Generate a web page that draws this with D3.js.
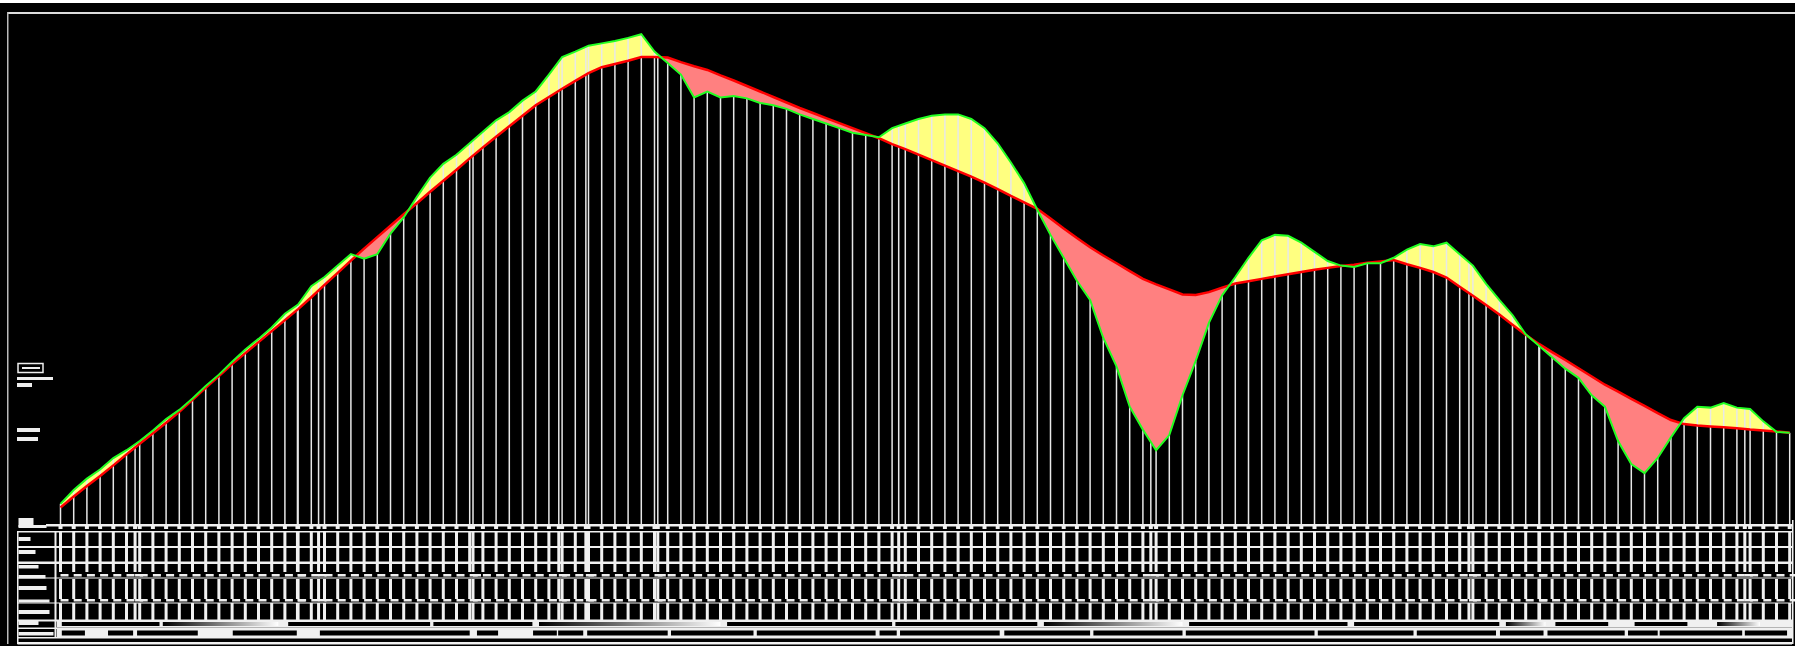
<!DOCTYPE html>
<html>
<head>
<meta charset="utf-8">
<script src="https://cdn.jsdelivr.net/npm/d3@7"></script>
<style>
  html, body { margin: 0; padding: 0; background: #000; }
  svg { display: block; }
</style>
</head>
<body>
<div id="graph"></div>
<script>
// The data... stations every 20 m, elevations in m
var stationStep = 20;
var stations = d3.range (0, 2640, stationStep);

var ground = [
    104.4, 107.4, 109.9, 111.9, 114.4, 116.1, 118.1, 120.4, 122.9, 124.9,
    127.4, 130.1, 132.6, 135.4, 138.1, 140.4, 142.9, 145.9, 147.9, 151.9,
    153.9, 156.4, 158.9, 157.9, 158.9, 163.4, 166.9, 171.4, 175.6, 178.6,
    180.6, 183.1, 185.6, 188.1, 189.9, 192.4, 194.4, 198.1, 201.9, 203.1,
    204.4, 204.9, 205.4, 206.1, 206.9, 203.1, 200.6, 198.1, 193.1, 194.4,
    193.1, 193.4, 192.9, 191.9, 191.4, 190.6, 189.4, 188.4, 187.4, 186.4,
    185.4, 184.9, 184.4, 186.4, 187.4, 188.4, 189.1, 189.4, 189.4, 188.4,
    186.4, 183.1, 178.9, 174.4, 168.6, 163.1, 158.1, 153.1, 148.9, 140.6,
    134.4, 125.6, 120.6, 116.1, 119.4, 128.1, 135.6, 143.9, 149.9, 153.9,
    158.1, 161.9, 163.1, 162.9, 161.4, 159.4, 157.4, 156.4, 156.1, 156.9,
    156.9, 158.1, 159.9, 161.1, 160.6, 161.4, 158.9, 156.4, 152.4, 148.9,
    145.6, 141.4, 138.9, 136.4, 133.9, 131.9, 128.1, 125.6, 118.1, 113.1,
    111.1, 114.4, 118.9, 123.1, 125.6, 125.4, 126.4, 125.4, 125.1, 122.4,
    120.1, 119.9
];

var design = [
    103.6, 106.0, 108.3, 110.5, 112.8, 115.2, 117.5, 119.8, 122.1, 124.5,
    127.1, 129.7, 132.3, 134.9, 137.3, 139.7, 142.1, 144.5, 146.9, 149.5,
    152.2, 154.8, 157.5, 160.1, 162.6, 165.1, 167.6, 170.0, 172.5, 174.9,
    177.3, 179.8, 182.2, 184.5, 186.8, 189.1, 191.4, 193.2, 195.0, 196.7,
    198.4, 199.7, 200.4, 201.1, 201.9, 201.9, 201.8, 200.8, 199.9, 199.1,
    197.9, 196.8, 195.6, 194.4, 193.2, 192.0, 190.8, 189.7, 188.6, 187.5,
    186.4, 185.3, 184.2, 182.9, 181.8, 180.6, 179.4, 178.2, 177.0, 175.8,
    174.5, 173.1, 171.6, 170.2, 168.8, 166.7, 164.5, 162.4, 160.4, 158.6,
    156.9, 155.2, 153.5, 152.3, 151.2, 150.1, 150.0, 150.6, 151.6, 152.5,
    153.0, 153.5, 154.0, 154.5, 155.0, 155.5, 155.9, 156.3, 156.6, 157.0,
    157.3, 157.6, 156.7, 155.9, 155.0, 153.8, 151.8, 149.8, 147.8, 145.7,
    143.5, 141.3, 139.3, 137.5, 135.8, 134.0, 132.2, 130.4, 128.9, 127.3,
    125.8, 124.2, 122.7, 121.8, 121.5, 121.3, 121.1, 120.9, 120.6, 120.4,
    120.2, 119.9
];

// additional (plus) stations and their ground levels
var extraStations = [ 113, 359, 391, 625, 755, 796, 905, 1270, 1652, 2134, 2241, 2552 ];
var extraGround   = [ 117.4, 147.8, 153.0, 183.7, 201.0, 204.1, 202.5, 186.9, 117.9, 157.2, 138.8, 125.2 ];

// band rows at the bottom: [start, end] chainages of the boxes
var gradeBoxes = [ [2, 150], [155, 330], [345, 560], [565, 715], [725, 1000], [1010, 1260],
                   [1265, 1480], [1490, 1700], [1710, 1950], [1960, 2180], [2190, 2250],
                   [2265, 2345], [2385, 2465], [2510, 2575] ];
var curveBoxes = [ [2, 37], [72, 110], [116, 208], [261, 358], [393, 620], [631, 663],
                   [716, 752], [754, 792], [798, 920], [925, 1050], [1055, 1235], [1241, 1267],
                   [1272, 1423], [1430, 1560], [1565, 1700], [1705, 1900], [1905, 2050],
                   [2055, 2175], [2181, 2247], [2253, 2370], [2375, 2420], [2423, 2548], [2552, 2616] ];

function D3App ()
{
    var width  = 1795;
    var height = 646;
    var baseY  = 525;

    var svg = d3.select ('#graph').append ('svg')
                .attr ('width', width)
                .attr ('height', height)
                .style ('background', '#000');

    var xScale = d3.scaleLinear ()
                   .domain ([ 0, 2620 ])
                   .range ([ 60.5, 1789.7 ]);

    var yScale = d3.scaleLinear ()
                   .domain ([ 100, 210 ])
                   .range ([ 524, 20 ]);

    var rows = stations.map (function (s, i) { return { ch: s, ground: ground[i], design: design[i] }; });
    var allCh = stations.concat (extraStations).sort (function (a, b) { return a - b; });

    // frame
    svg.append ('rect').attr ('x', 0).attr ('y', 0).attr ('width', width).attr ('height', 3).attr ('fill', '#fff');
    svg.append ('rect').attr ('x', 7).attr ('y', 12).attr ('width', width).attr ('height', 2).attr ('fill', '#ddd');
    svg.append ('rect').attr ('x', 7).attr ('y', 12).attr ('width', 1.5).attr ('height', 632).attr ('fill', '#bbb');

    // clip paths for cut / fill
    var defs = svg.append ('defs');
    defs.append ('clipPath').attr ('id', 'above').append ('path')
        .attr ('d', d3.area ().x (function (d) { return xScale (d.ch); })
                              .y0 (0)
                              .y1 (function (d) { return yScale (d.design); }) (rows));
    defs.append ('clipPath').attr ('id', 'below').append ('path')
        .attr ('d', d3.area ().x (function (d) { return xScale (d.ch); })
                              .y0 (function (d) { return yScale (d.design); })
                              .y1 (height) (rows));

    var between = d3.area ()
                    .x  (function (d) { return xScale (d.ch); })
                    .y0 (function (d) { return yScale (d.design); })
                    .y1 (function (d) { return yScale (d.ground); });

    svg.append ('path').attr ('d', between (rows)).attr ('fill', '#ffff80').attr ('clip-path', 'url(#above)');
    svg.append ('path').attr ('d', between (rows)).attr ('fill', '#ff8080').attr ('clip-path', 'url(#below)');

    // station verticals
    svg.selectAll ('line.st')
       .data (rows)
       .enter ()
       .append ('line')
       .attr ('class', 'st')
       .attr ('x1', function (d) { return xScale (d.ch); })
       .attr ('x2', function (d) { return xScale (d.ch); })
       .attr ('y1', function (d) { return yScale (d.ground); })
       .attr ('y2', baseY)
       .attr ('stroke', '#e8e8e8')
       .attr ('stroke-width', 1.5);

    svg.selectAll ('line.ex')
       .data (extraStations)
       .enter ()
       .append ('line')
       .attr ('class', 'ex')
       .attr ('x1', function (d) { return xScale (d); })
       .attr ('x2', function (d) { return xScale (d); })
       .attr ('y1', function (d, i) { return yScale (extraGround[i]); })
       .attr ('y2', baseY)
       .attr ('stroke', '#e8e8e8')
       .attr ('stroke-width', 1.5);

    // design and ground lines
    svg.append ('path')
       .attr ('d', d3.line ().x (function (d) { return xScale (d.ch); }).y (function (d) { return yScale (d.design); }) (rows))
       .attr ('fill', 'none').attr ('stroke', '#ff0000').attr ('stroke-width', 2.5);
    svg.append ('path')
       .attr ('d', d3.line ().x (function (d) { return xScale (d.ch); }).y (function (d) { return yScale (d.ground); }) (rows))
       .attr ('fill', 'none').attr ('stroke', '#22ff22').attr ('stroke-width', 2);

    // legend blocks on the left
    var lg = svg.append ('g').attr ('fill', '#eee');
    svg.append ('rect').attr ('x', 18).attr ('y', 363.5).attr ('width', 25).attr ('height', 9)
       .attr ('fill', 'none').attr ('stroke', '#eee').attr ('stroke-width', 1.5);
    lg.append ('rect').attr ('x', 22).attr ('y', 367).attr ('width', 18).attr ('height', 2);
    lg.append ('rect').attr ('x', 17).attr ('y', 377).attr ('width', 36).attr ('height', 3);
    lg.append ('rect').attr ('x', 17).attr ('y', 383).attr ('width', 15).attr ('height', 4);
    lg.append ('rect').attr ('x', 17).attr ('y', 428).attr ('width', 23).attr ('height', 4);
    lg.append ('rect').attr ('x', 17).attr ('y', 437).attr ('width', 21).attr ('height', 4);

    //
    // band table under the profile
    //
    var tb = svg.append ('g').attr ('fill', '#f0f0f0');
    var tl = 17.5, tr = 1792;

    // baseline with station notches
    tb.append ('rect').attr ('x', 46).attr ('y', 524).attr ('width', tr - 46).attr ('height', 2.5);
    tb.selectAll ('rect.notch').data (allCh).enter ().append ('rect').attr ('class', 'notch')
      .attr ('x', function (d) { return xScale (d) - 2; }).attr ('y', 526).attr ('width', 4).attr ('height', 3);

    // horizontal lines
    [ [531, 1.5], [546, 2], [561.5, 2.5], [577.5, 1], [602.5, 1], [619.5, 2], [627.5, 1.5], [637, 1.5], [642, 2.5] ]
        .forEach (function (l) {
            tb.append ('rect').attr ('x', tl).attr ('y', l[0]).attr ('width', tr - tl).attr ('height', l[1]);
        });

    // verticals of the label column and frame
    tb.append ('rect').attr ('x', 17).attr ('y', 531).attr ('width', 1.5).attr ('height', 113);
    tb.append ('rect').attr ('x', 54.5).attr ('y', 531).attr ('width', 2).attr ('height', 107);
    tb.append ('rect').attr ('x', tr).attr ('y', 520).attr ('width', 1.5).attr ('height', 124);

    // station bars in each row
    var bars = [ [531, 31], [562, 10], [579, 20], [603, 17] ];
    bars.forEach (function (b) {
        tb.selectAll (null).data (allCh).enter ().append ('rect')
          .attr ('x', function (d) { return xScale (d) - 1.5; })
          .attr ('y', b[0]).attr ('width', 3).attr ('height', b[1]);
    });
    // step dashes
    [ 574, 599 ].forEach (function (y) {
        tb.selectAll (null).data (allCh).enter ().append ('rect')
          .attr ('x', function (d) { return xScale (d); })
          .attr ('y', y).attr ('width', 8).attr ('height', 2.5);
    });

    // row labels (greeked)
    var labels = [ [518, 15, 9], [525, 28, 3], [537, 12, 4], [550, 17, 4], [565, 20, 3.5], [575, 27, 3.5],
                   [586, 28, 4], [599.5, 31, 3], [610, 31, 4], [621, 20, 4], [632, 35, 3.5] ];
    labels.forEach (function (l) {
        tb.append ('rect').attr ('x', 18.5).attr ('y', l[0]).attr ('width', l[1]).attr ('height', l[2]);
    });

    // grade row and curve row
    var grad = defs.append ('linearGradient').attr ('id', 'gfade');
    grad.append ('stop').attr ('offset', '0%').attr ('stop-color', '#000');
    grad.append ('stop').attr ('offset', '100%').attr ('stop-color', '#fff');

    tb.append ('rect').attr ('x', 57).attr ('y', 621).attr ('width', tr - 57).attr ('height', 6.5);
    svg.selectAll ('rect.gb').data (gradeBoxes).enter ().append ('rect').attr ('class', 'gb')
       .attr ('x', function (d) { return xScale (d[0]); })
       .attr ('y', 622)
       .attr ('width', function (d) { return xScale (d[1]) - xScale (d[0]); })
       .attr ('height', 4)
       .attr ('fill', function (d, i) { return i % 3 == 1 ? 'url(#gfade)' : '#000'; });

    tb.append ('rect').attr ('x', 57).attr ('y', 628.5).attr ('width', tr - 57).attr ('height', 9);
    svg.selectAll ('rect.cb').data (curveBoxes).enter ().append ('rect').attr ('class', 'cb')
       .attr ('x', function (d) { return xScale (d[0]); })
       .attr ('y', 630.5)
       .attr ('width', function (d) { return xScale (d[1]) - xScale (d[0]); })
       .attr ('height', 5)
       .attr ('fill', '#000');
}

D3App ();
</script>
</body>
</html>
